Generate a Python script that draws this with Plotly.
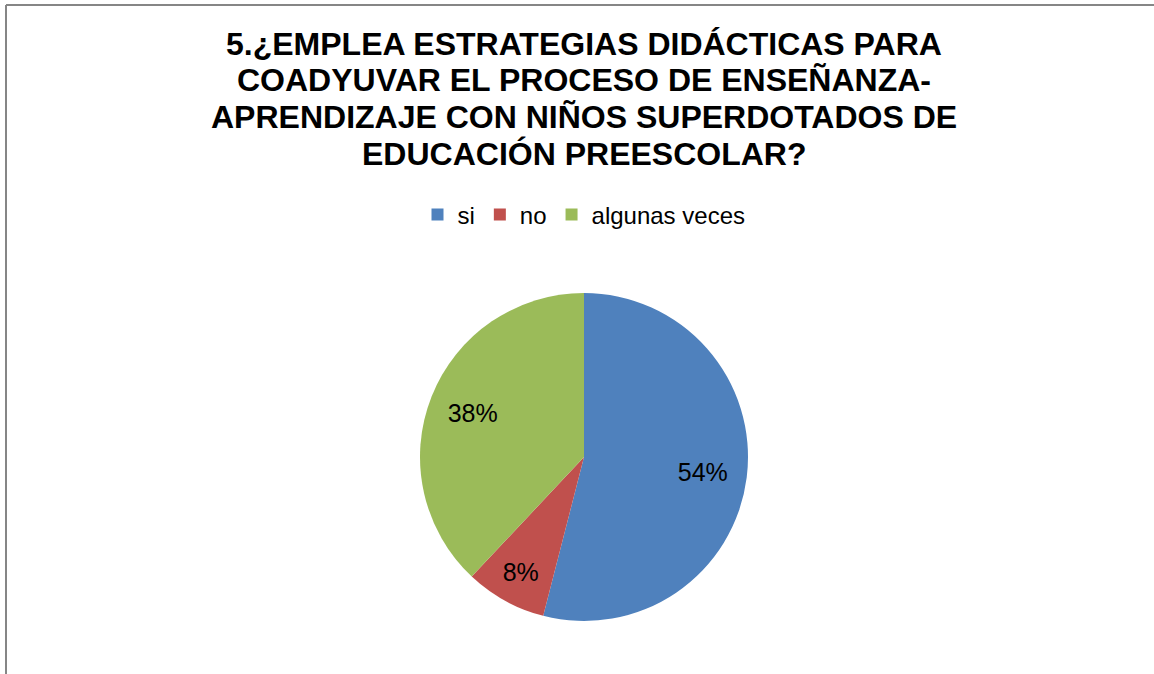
import plotly.graph_objects as go

W, H = 1154, 674

labels = ['si', 'no', 'algunas veces']
values = [54, 8, 38]
colors = ['#4F81BD', '#C0504D', '#9BBB59']

title_lines = ['5.¿EMPLEA ESTRATEGIAS DIDÁCTICAS PARA',
               'COADYUVAR EL PROCESO DE ENSEÑANZA-',
               'APRENDIZAJE CON NIÑOS SUPERDOTADOS DE',
               'EDUCACIÓN PREESCOLAR?']

font_family = 'Liberation Sans, Arial, sans-serif'

# pie centred at (584, 457) px with radius ~164
cx, cy, r = 584, 457, 164
pie_domain = dict(x=[(cx - r) / W, (cx + r) / W],
                  y=[1 - (cy + r) / H, 1 - (cy - r) / H])

fig = go.Figure()

# the coloured pie
fig.add_trace(go.Pie(
    labels=labels,
    values=values,
    marker=dict(colors=colors, line=dict(width=0)),
    sort=False,
    direction='clockwise',
    rotation=0,
    textinfo='none',
    hoverinfo='label+percent',
    domain=pie_domain,
))

# transparent ring on top, only to put the % labels further out
fig.add_trace(go.Pie(
    labels=labels,
    values=values,
    marker=dict(colors=['rgba(0,0,0,0)'] * 3, line=dict(width=0)),
    hole=0.46,
    sort=False,
    direction='clockwise',
    rotation=0,
    texttemplate='%{percent:.0%}',
    textposition='inside',
    insidetextorientation='horizontal',
    insidetextfont=dict(color='black', size=25, family=font_family),
    hoverinfo='skip',
    showlegend=False,
    domain=pie_domain,
))

fig.update_layout(
    width=W,
    height=H,
    margin=dict(l=0, r=0, t=0, b=0),
    paper_bgcolor='white',
    plot_bgcolor='white',
    font=dict(family=font_family, color='black'),
    legend=dict(orientation='h',
                x=584 / W, xanchor='center',
                y=1 - 215 / H, yanchor='middle',
                font=dict(size=24, family=font_family, color='black')),
    showlegend=True,
)

# title, one annotation per line to keep the tight line spacing
title_y = [44, 80, 117, 154]
for line, ty in zip(title_lines, title_y):
    fig.add_annotation(text=line, showarrow=False,
                       xref='paper', yref='paper',
                       x=584 / W, xanchor='center',
                       y=1 - ty / H, yanchor='middle',
                       font=dict(size=32, family=font_family,
                                 color='black', weight='bold'))

# thin grey frame visible on the top and left edges
fig.add_shape(type='line', xref='paper', yref='paper',
              x0=6 / W, x1=1, y0=1 - 5 / H, y1=1 - 5 / H,
              line=dict(color='#868686', width=2))
fig.add_shape(type='line', xref='paper', yref='paper',
              x0=6 / W, x1=6 / W, y0=0, y1=1 - 5 / H,
              line=dict(color='#868686', width=2))

fig.write_html("out.html",
               config={'displayModeBar': False},
               post_script="document.body.style.margin='0';"
                           "document.body.style.overflow='hidden';")
